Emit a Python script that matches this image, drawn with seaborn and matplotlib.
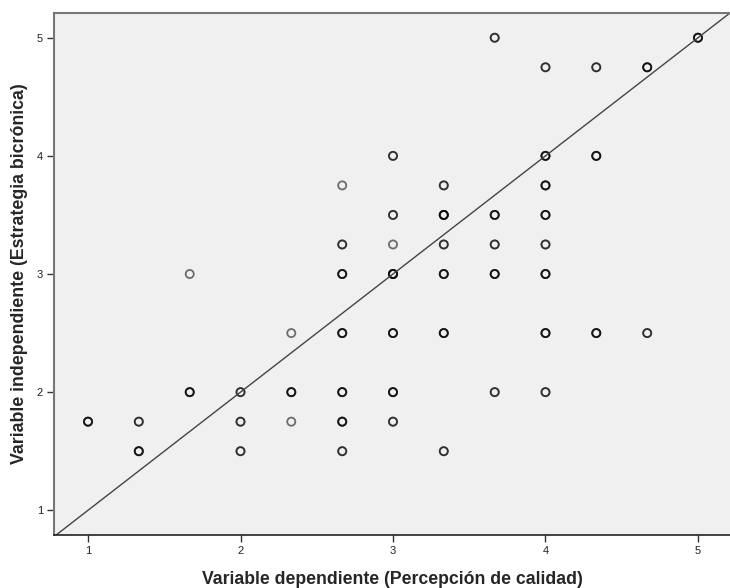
import numpy as np
import pandas as pd
import matplotlib
matplotlib.use("Agg")
import matplotlib.pyplot as plt
import seaborn as sns

# Scatter values (Percepción de calidad vs Estrategia bicrónica), n = overlapping cases
x_vals = [1.0, 1.333, 1.333, 1.667, 1.667, 2.0, 2.0, 2.0, 2.333, 2.333, 2.333,
          2.667, 2.667, 2.667, 2.667, 2.667, 2.667, 2.667,
          3.0, 3.0, 3.0, 3.0, 3.0, 3.0, 3.0,
          3.333, 3.333, 3.333, 3.333, 3.333, 3.333,
          3.667, 3.667, 3.667, 3.667, 3.667,
          4.0, 4.0, 4.0, 4.0, 4.0, 4.0, 4.0, 4.0,
          4.333, 4.333, 4.333, 4.667, 4.667, 5.0]
y_vals = [1.75, 1.75, 1.5, 3.0, 2.0, 2.0, 1.75, 1.5, 2.5, 2.0, 1.75,
          3.75, 3.25, 3.0, 2.5, 2.0, 1.75, 1.5,
          4.0, 3.5, 3.25, 3.0, 2.5, 2.0, 1.75,
          3.75, 3.5, 3.25, 3.0, 2.5, 1.5,
          5.0, 3.5, 3.25, 3.0, 2.0,
          4.75, 4.0, 3.75, 3.5, 3.25, 3.0, 2.5, 2.0,
          4.75, 4.0, 2.5, 4.75, 2.5, 5.0]
n_vals = [3, 2, 3, 1, 3, 2, 2, 2, 1, 3, 1,
          1, 2, 3, 3, 3, 3, 2,
          2, 2, 1, 4, 3, 3, 2,
          2, 4, 2, 3, 3, 2,
          2, 3, 2, 3, 2,
          2, 3, 3, 3, 2, 3, 3, 2,
          2, 3, 3, 3, 2, 3]
x_ticks = [1, 2, 3, 4, 5]
y_ticks = [1, 2, 3, 4, 5]

df = pd.DataFrame({"x": x_vals, "y": y_vals, "n": n_vals})
df = df.loc[df.index.repeat(df.n)].reset_index(drop=True)

sns.set_style("white")
plt.rcParams['font.family'] = ['Liberation Sans', 'DejaVu Sans']

fig = plt.figure(figsize=(7.3, 5.88), dpi=100)
ax = fig.add_axes([0.074, 0.090, 0.926, 0.888])
ax.set_facecolor("#f0f0f0")

sns.scatterplot(data=df, x="x", y="y", ax=ax, marker="o", s=34,
                facecolors="none", edgecolor="black", linewidth=1.3,
                alpha=0.55, legend=False)

# identity reference line
lims = [0.78, 5.21]
ax.plot(lims, lims, color="#444444", lw=1.0, zorder=1)
ax.set_xlim(0.777, 5.21)
ax.set_ylim(0.79, 5.21)

ax.set_xticks(x_ticks)
ax.set_yticks(y_ticks)
ax.tick_params(axis="both", direction="out", length=5, width=1, color="#333333",
               labelsize=8, labelcolor="#222222", pad=3)
ax.tick_params(axis="x", bottom=True)
ax.tick_params(axis="y", left=True)

for side in ["top", "left"]:
    ax.spines[side].set_color("#777777")
    ax.spines[side].set_linewidth(1.5)
ax.spines["bottom"].set_color("#222222")
ax.spines["bottom"].set_linewidth(1.2)
ax.spines["right"].set_visible(False)

ax.set_xlabel("Variable dependiente (Percepción de calidad)", fontsize=12.7,
              fontweight="bold", labelpad=11)
ax.set_ylabel("Variable independiente (Estrategia bicrónica)", fontsize=12.8,
              fontweight="bold", labelpad=6)

fig.savefig("out.png", dpi=100)
